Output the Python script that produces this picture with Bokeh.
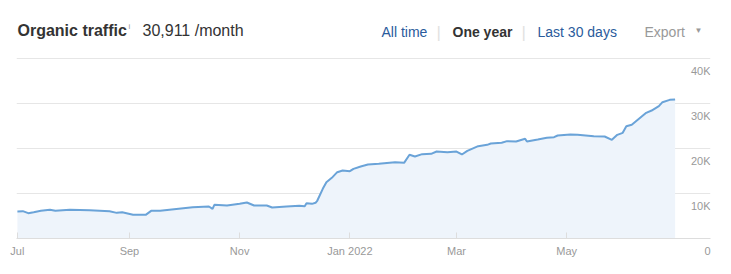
import pandas as pd
from bokeh.plotting import figure
from bokeh.models import FixedTicker, Label, Range1d, ColumnDataSource
from bokeh.embed import file_html
from bokeh.resources import INLINE

# ---- data -------------------------------------------------------------
dates = ["2021-07-01", "2021-07-04", "2021-07-07", "2021-07-10", "2021-07-14", "2021-07-19",
         "2021-07-22", "2021-07-30", "2021-08-10", "2021-08-21", "2021-08-25", "2021-08-28",
         "2021-09-03", "2021-09-10", "2021-09-13", "2021-09-18", "2021-10-06", "2021-10-15",
         "2021-10-17", "2021-10-18", "2021-10-25", "2021-11-01", "2021-11-05", "2021-11-09",
         "2021-11-16", "2021-11-19", "2021-11-27", "2021-12-04", "2021-12-07", "2021-12-08",
         "2021-12-11", "2021-12-13", "2021-12-14", "2021-12-17", "2021-12-19", "2021-12-22",
         "2021-12-25", "2021-12-28", "2022-01-01", "2022-01-03", "2022-01-07", "2022-01-11",
         "2022-01-17", "2022-01-26", "2022-01-31", "2022-02-03", "2022-02-06", "2022-02-10",
         "2022-02-15", "2022-02-18", "2022-02-24", "2022-03-01", "2022-03-04", "2022-03-07",
         "2022-03-13", "2022-03-18", "2022-03-20", "2022-03-26", "2022-03-29", "2022-04-03",
         "2022-04-08", "2022-04-09", "2022-04-15", "2022-04-20", "2022-04-24", "2022-04-26",
         "2022-05-03", "2022-05-07", "2022-05-16", "2022-05-22", "2022-05-26", "2022-05-29",
         "2022-06-01", "2022-06-03", "2022-06-06", "2022-06-10", "2022-06-14", "2022-06-17",
         "2022-06-21", "2022-06-23", "2022-06-27", "2022-06-30"]
traffic = [6000, 6070, 5630, 5850, 6150, 6370,
           6150, 6370, 6300, 6070, 5700, 5850,
           5260, 5260, 6150, 6150, 6960, 7110,
           6590, 7480, 7330, 7700, 8000, 7330,
           7330, 6890, 7110, 7260, 7180, 7850,
           7700, 7930, 8440, 11040, 12520, 13480,
           14740, 15110, 14960, 15480, 16000, 16440,
           16590, 16960, 16810, 18600, 18220, 18740,
           18810, 19330, 19180, 19330, 18670, 19480,
           20520, 20810, 21110, 21260, 21630, 21560,
           22150, 21560, 22000, 22370, 22520, 22890,
           23110, 23040, 22740, 22670, 21930, 23040,
           23480, 24960, 25260, 26590, 27930, 28440,
           29410, 30290, 30810, 30911]

x_tick_dates = ["2021-07-01", "2021-09-01", "2021-11-01", "2022-01-01", "2022-03-01", "2022-05-01"]
x_tick_labels = ["Jul", "Sep", "Nov", "Jan 2022", "Mar", "May"]
y_ticks = [0, 10000, 20000, 30000, 40000]
y_tick_labels = ["0", "10K", "20K", "30K", "40K"]

title_text = "Organic traffic"
value_text = "30,911 /month"
periods = ["All time", "One year", "Last 30 days"]

# ---- styles / layout --------------------------------------------------
FONT = "Liberation Sans"
LINE = "#6aa3d8"
FILL = "#eef4fb"
GRID = "#e6e6e6"
GRAY = "#999999"
DARK = "#333333"
BLUE = "#2a5b9c"
SEP = "#e2e2e2"

W, H = 731, 274
LEFT, RIGHT, BOTTOM = 16, 21, 36
FRAME_BOTTOM = H - BOTTOM          # canvas y of the x axis
CHART_TOP = 58                     # canvas y of the 40K grid line
# frame spans the whole height above the axis; the header sits in its blank top part
Y1 = y_ticks[-1] * FRAME_BOTTOM / (FRAME_BOTTOM - CHART_TOP)
X0 = pd.Timestamp("2021-06-30 12:00")
X1 = pd.Timestamp("2022-07-19 14:00")

src = ColumnDataSource(dict(x=pd.to_datetime(dates), y=traffic))

p = figure(width=W, height=H, output_backend="svg", toolbar_location=None,
           x_axis_type="datetime", y_axis_location=None,
           x_range=Range1d(X0, X1), y_range=Range1d(0, Y1),
           min_border_left=LEFT, min_border_right=RIGHT, min_border_top=0,
           min_border_bottom=BOTTOM)
p.outline_line_color = None

p.varea(x="x", y1=0, y2="y", source=src, fill_color=FILL)
p.line(x="x", y="y", source=src, line_color=LINE, line_width=2)

tick_ms = [pd.Timestamp(d).value / 1e6 for d in x_tick_dates]
ax = p.xaxis[0]
ax.ticker = FixedTicker(ticks=tick_ms)
ax.major_label_overrides = {t: l for t, l in zip(tick_ms, x_tick_labels)}
ax.axis_line_color = "#dddddd"
ax.major_tick_line_color = "#dddddd"
ax.major_tick_in = 6
ax.major_tick_out = 0
ax.minor_tick_line_color = None
ax.major_label_text_font = FONT
ax.major_label_text_font_size = "11px"
ax.major_label_text_color = GRAY
ax.major_label_standoff = 6

p.xgrid.grid_line_color = None
p.ygrid.ticker = FixedTicker(ticks=y_ticks[1:])
p.ygrid.grid_line_color = GRID
p.ygrid.grid_line_width = 1

# y tick labels, right aligned at the frame's right edge, under each grid line
frame_w = W - LEFT - RIGHT
for v, lab in zip(y_ticks, y_tick_labels):
    lbl = Label(x=frame_w, y=v, x_units="screen", y_units="data", text=lab,
                text_align="right", text_baseline="alphabetic", y_offset=-12,
                text_font=FONT, text_font_size="11px", text_color=GRAY)
    if v == 0:
        p.add_layout(lbl, "below")
    else:
        p.add_layout(lbl)


# header (screen units: relative to the frame's bottom-left corner)
def hdr(cx, cy, text, size, color, bold=False):
    p.add_layout(Label(x=cx - LEFT, y=FRAME_BOTTOM - cy, x_units="screen", y_units="screen",
                       text=text, text_align="left", text_baseline="alphabetic",
                       text_font=FONT, text_font_size=size, text_color=color,
                       text_font_style="bold" if bold else "normal"))


hdr(17, 30, title_text, "16px", DARK, True)
hdr(128, 26, "i", "8px", GRAY)
hdr(142, 30, value_text, "16px", DARK)
hdr(381, 31, periods[0], "14px", BLUE)
hdr(436, 32, "|", "17px", SEP)
hdr(452, 31, periods[1], "14px", DARK, True)
hdr(521, 32, "|", "17px", SEP)
hdr(537, 31, periods[2], "14px", BLUE)
hdr(644, 31, "Export", "14px", GRAY)
hdr(694, 30, "\u25bc", "8px", GRAY)

open("out.html", "w").write(file_html(p, INLINE))
